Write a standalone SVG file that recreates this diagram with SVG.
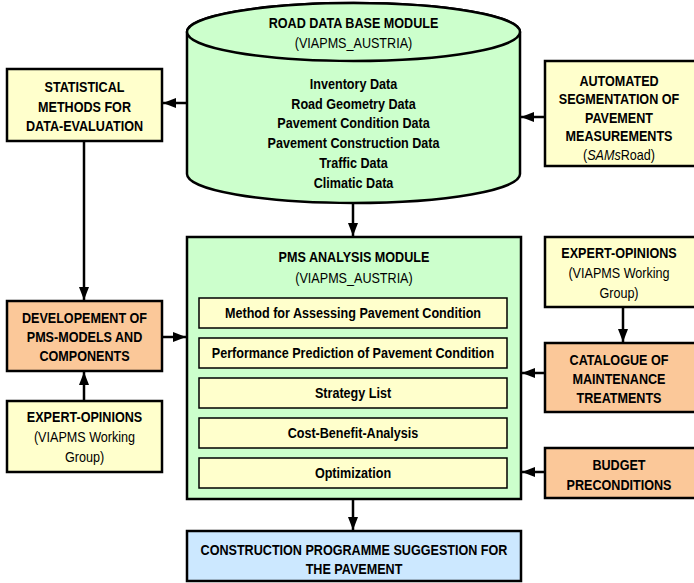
<svg xmlns="http://www.w3.org/2000/svg" width="694" height="583" viewBox="0 0 694 583">
<defs>
<marker id="ah" viewBox="0 0 13 10" refX="13" refY="5" markerWidth="13" markerHeight="10" markerUnits="userSpaceOnUse" orient="auto">
<path d="M0,0 L13,5 L0,10 z" fill="#000"/>
</marker>
<style>
text{font-family:"Liberation Sans",Arial,sans-serif;font-size:14px;text-anchor:middle;fill:#000;transform-box:fill-box;transform-origin:center;transform:scaleX(0.9)}
.b{font-weight:bold}
.box{stroke:#000;stroke-width:2.5}
.y{fill:#ffffcc}
.o{fill:#fbc899}
.g{fill:#ccffcc}
.bl{fill:#cce8ff}
.sub{fill:#ffffcc;stroke:#000;stroke-width:1.5}
.c{stroke:#000;stroke-width:2.5;fill:none;marker-end:url(#ah)}
</style>
</defs>
<rect width="694" height="583" fill="#fff"/>
<g id="connectors">
<line class="c" x1="187" y1="103" x2="163" y2="103"/>
<line class="c" x1="545" y1="117" x2="521" y2="117"/>
<line class="c" x1="84" y1="141" x2="84" y2="300"/>
<line class="c" x1="84" y1="401" x2="84" y2="372"/>
<line class="c" x1="162" y1="337" x2="186" y2="337"/>
<line class="c" x1="353" y1="203" x2="353" y2="236"/>
<line class="c" x1="623" y1="307" x2="623" y2="342"/>
<line class="c" x1="545" y1="373" x2="522" y2="373"/>
<line class="c" x1="545" y1="472" x2="522" y2="472"/>
<line class="c" x1="353" y1="499" x2="353" y2="530"/>
</g>
<g id="road-db">
<path class="box g" d="M187,32 L187,174 A166.5,29 0 0 0 520,174 L520,32 A166.5,29 0 0 0 187,32 z"/>
<ellipse class="box g" cx="353.5" cy="32" rx="166.5" ry="29"/>
<text class="b" x="353.5" y="28">ROAD DATA BASE MODULE</text>
<text x="353.5" y="48">(VIAPMS_AUSTRIA)</text>
<text class="b" x="353.5" y="89">Inventory Data</text>
<text class="b" x="353.5" y="109">Road Geometry Data</text>
<text class="b" x="353.5" y="128">Pavement Condition Data</text>
<text class="b" x="353.5" y="148">Pavement Construction Data</text>
<text class="b" x="353.5" y="168">Traffic Data</text>
<text class="b" x="353.5" y="188">Climatic Data</text>
</g>
<g id="statistical">
<rect class="box y" x="7" y="69" width="155" height="72"/>
<text class="b" x="84.5" y="92">STATISTICAL</text>
<text class="b" x="84.5" y="112">METHODS FOR</text>
<text class="b" x="84.5" y="131">DATA-EVALUATION</text>
</g>
<g id="automated">
<rect class="box y" x="545" y="61" width="152" height="105"/>
<text class="b" x="619" y="86">AUTOMATED</text>
<text class="b" x="619" y="104">SEGMENTATION OF</text>
<text class="b" x="619" y="123">PAVEMENT</text>
<text class="b" x="619" y="141">MEASUREMENTS</text>
<text x="619" y="160">(<tspan font-style="italic">SAMs</tspan>Road)</text>
</g>
<g id="developement">
<rect class="box o" x="7" y="301" width="155" height="70"/>
<text class="b" x="84.5" y="323">DEVELOPEMENT OF</text>
<text class="b" x="84.5" y="342">PMS-MODELS AND</text>
<text class="b" x="84.5" y="361">COMPONENTS</text>
</g>
<g id="expert-left">
<rect class="box y" x="7" y="401" width="155" height="71"/>
<text class="b" x="84.5" y="422">EXPERT-OPINIONS</text>
<text x="84.5" y="442">(VIAPMS Working</text>
<text x="84.5" y="462">Group)</text>
</g>
<g id="pms">
<rect class="box g" x="187" y="237" width="334" height="262"/>
<text class="b" x="354" y="262">PMS ANALYSIS MODULE</text>
<text x="354" y="283">(VIAPMS_AUSTRIA)</text>
<rect class="sub" x="199" y="298" width="308" height="30"/>
<text class="b" x="353" y="318">Method for Assessing Pavement Condition</text>
<rect class="sub" x="199" y="338" width="308" height="30"/>
<text class="b" x="353" y="358">Performance Prediction of Pavement Condition</text>
<rect class="sub" x="199" y="378" width="308" height="30"/>
<text class="b" x="353" y="398">Strategy List</text>
<rect class="sub" x="199" y="418" width="308" height="30"/>
<text class="b" x="353" y="438">Cost-Benefit-Analysis</text>
<rect class="sub" x="199" y="458" width="308" height="30"/>
<text class="b" x="353" y="478">Optimization</text>
</g>
<g id="expert-right">
<rect class="box y" x="545" y="237" width="152" height="70"/>
<text class="b" x="619" y="258">EXPERT-OPINIONS</text>
<text x="619" y="278">(VIAPMS Working</text>
<text x="619" y="298">Group)</text>
</g>
<g id="catalogue">
<rect class="box o" x="545" y="343" width="152" height="69"/>
<text class="b" x="619" y="365">CATALOGUE OF</text>
<text class="b" x="619" y="384">MAINTENANCE</text>
<text class="b" x="619" y="403">TREATMENTS</text>
</g>
<g id="budget">
<rect class="box o" x="545" y="448" width="152" height="50"/>
<text class="b" x="619" y="470">BUDGET</text>
<text class="b" x="619" y="490">PRECONDITIONS</text>
</g>
<g id="construction">
<rect class="box bl" x="187" y="531" width="334" height="50"/>
<text class="b" x="354" y="555">CONSTRUCTION PROGRAMME SUGGESTION FOR</text>
<text class="b" x="354" y="574">THE PAVEMENT</text>
</g>
</svg>
